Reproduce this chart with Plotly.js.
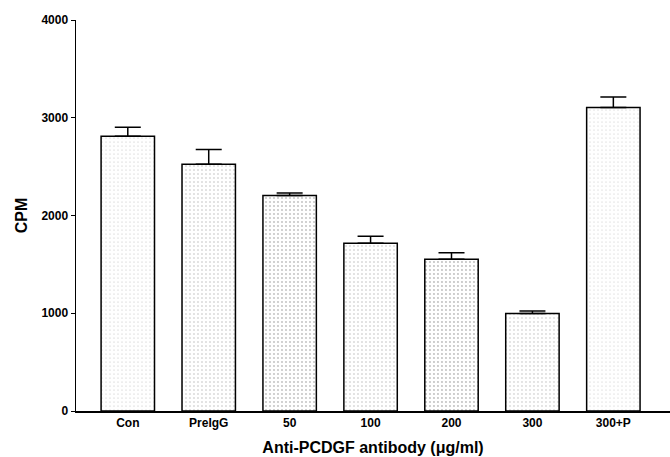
<!DOCTYPE html>
<html>
<head>
<meta charset="utf-8">
<script src="https://cdn.plot.ly/plotly-3.0.1.min.js"></script>
<style>html,body{margin:0;padding:0;background:#fff;}#chart{width:670px;height:457px;}</style>
</head>
<body>
<div id="chart"></div>
<script>
const categories = ["Con", "PreIgG", "50", "100", "200", "300", "300+P"];
const cpmValues = [2810, 2525, 2205, 1715, 1552, 998, 3105];
const cpmErrors = [92, 150, 25, 72, 68, 25, 108];
const yTickVals = [0, 1000, 2000, 3000, 4000];
const yTickText = ["0", "1000", "2000", "3000", "4000"];

const fam = "Liberation Sans, Arial, sans-serif";
const tickFont = {family: fam, size: 12, color: "#000", weight: "bold"};
const titleFont = {family: fam, size: 16, color: "#000", weight: "bold"};

const trace = {
  type: "bar",
  x: categories,
  y: cpmValues,
  width: 0.66,
  marker: {
    color: "#ffffff",
    line: {color: "#000", width: 1.5},
    pattern: {shape: ".", fgcolor: "#bdbdbd", bgcolor: "#ffffff", size: 4, solidity: [0.06, 0.12, 0.16, 0.12, 0.18, 0.1, 0.05]}
  },
  error_y: {type: "data", array: cpmErrors, arrayminus: cpmErrors.map(() => 0), symmetric: false,
            color: "#000", thickness: 1.5, width: 13},
  hoverinfo: "none"
};

const layout = {
  width: 670, height: 457,
  margin: {l: 76, r: 0, t: 20, b: 46},
  paper_bgcolor: "#fff", plot_bgcolor: "#fff",
  showlegend: false,
  font: tickFont,
  xaxis: {
    type: "category",
    range: [-0.64, 6.7],
    showline: true, linecolor: "#000", linewidth: 1.5,
    ticks: "", showgrid: false, zeroline: false,
    tickfont: tickFont,
    title: {text: "Anti-PCDGF antibody (\u03bcg/ml)", font: titleFont, standoff: 13}
  },
  yaxis: {
    range: [0, 4000],
    tickvals: yTickVals, ticktext: yTickText,
    showline: true, linecolor: "#000", linewidth: 1.5,
    ticks: "outside", ticklen: 4, tickwidth: 1, tickcolor: "#000",
    showgrid: false, zeroline: false,
    tickfont: tickFont,
    title: {text: "CPM", font: titleFont, standoff: 10}
  }
};

Plotly.newPlot("chart", [trace], layout, {staticPlot: true, displayModeBar: false});
</script>
</body>
</html>
